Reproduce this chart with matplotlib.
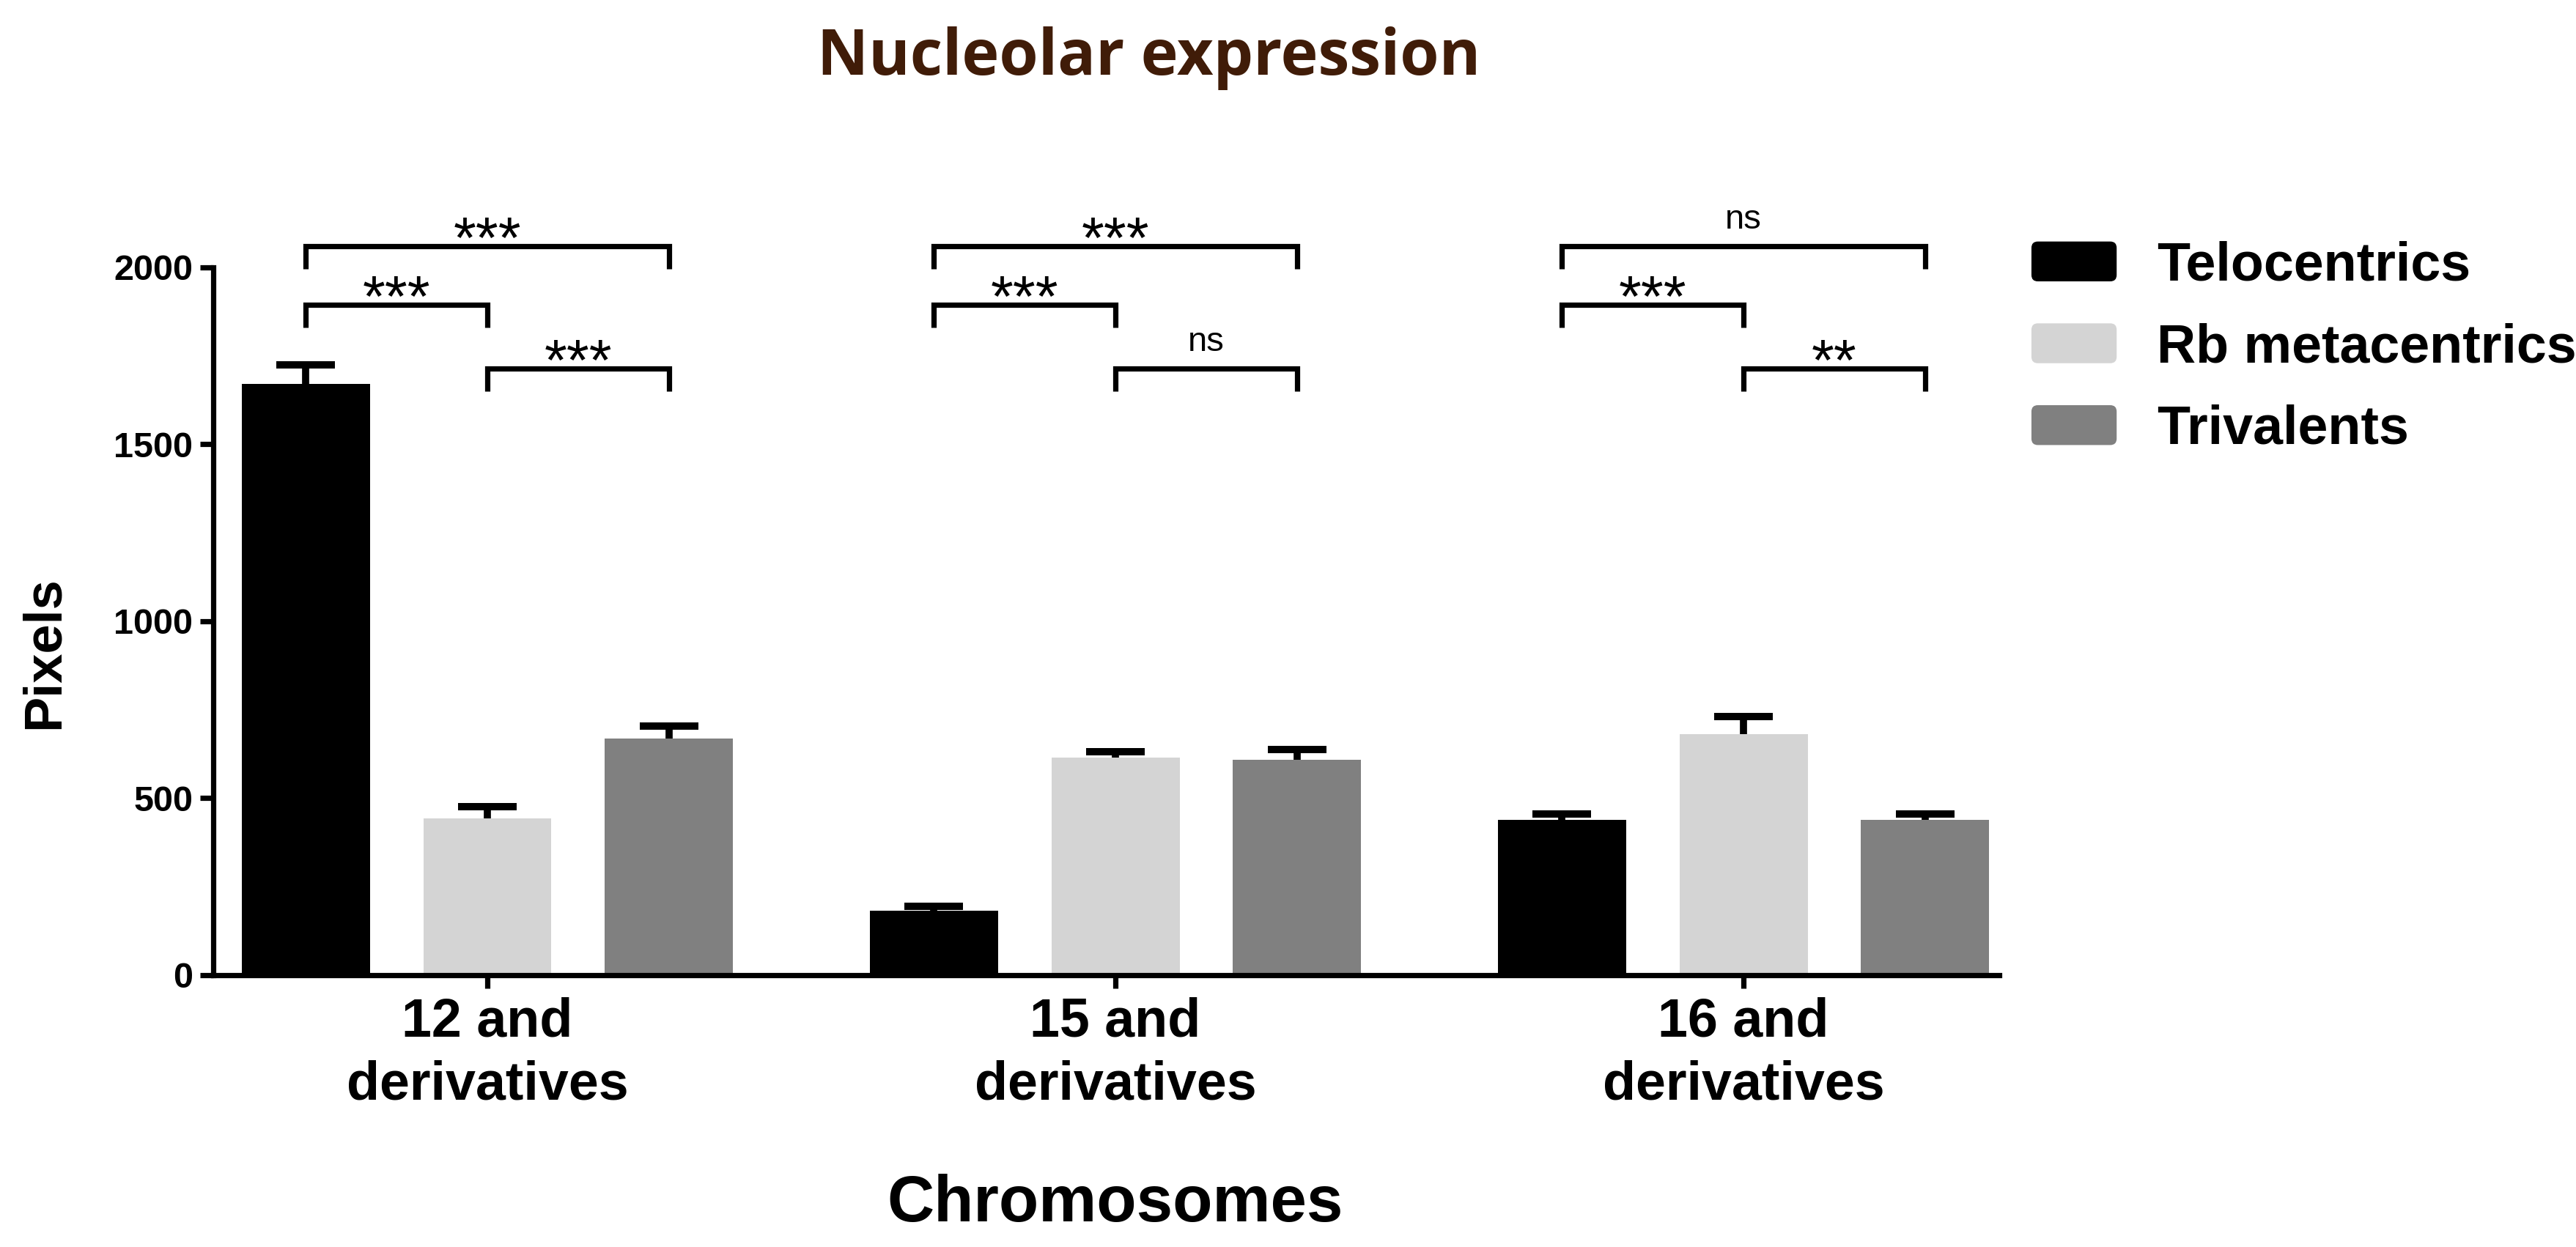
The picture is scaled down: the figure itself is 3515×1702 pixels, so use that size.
import numpy as np
import matplotlib
matplotlib.use("Agg")
import matplotlib.pyplot as plt
from matplotlib import font_manager
from matplotlib.patches import Patch, FancyBboxPatch
from matplotlib.legend_handler import HandlerPatch

# data (pixels, mean and upper error)
groups = ['12 and\nderivatives', '15 and\nderivatives', '16 and\nderivatives']
series = ['Telocentrics', 'Rb metacentrics', 'Trivalents']
telo = [1670, 183, 438]
telo_err = [55, 12, 17]
rb = [443, 614, 682]
rb_err = [33, 17, 49]
tri = [668, 609, 438]
tri_err = [36, 28, 17]
colors = ['#000000', '#d4d4d4', '#808080']

# significance brackets: (group, bar a, bar b, level, label)
sig = [
    (0, 0, 2, 2060, '***'), (0, 0, 1, 1895, '***'), (0, 1, 2, 1715, '***'),
    (1, 0, 2, 2060, '***'), (1, 0, 1, 1895, '***'), (1, 1, 2, 1715, 'ns'),
    (2, 0, 2, 2060, 'ns'), (2, 0, 1, 1895, '***'), (2, 1, 2, 1715, '**'),
]

plt.rcParams['font.family'] = ['Liberation Sans', 'DejaVu Sans']

# narrow face for the y tick numbers if it is there
try:
    font_manager.findfont('Liberation Sans Narrow', fallback_to_default=False)
    ytick_family = ['Liberation Sans Narrow', 'Liberation Sans']
    ytick_size = 37
except ValueError:
    ytick_family = ['Liberation Sans']
    ytick_size = 35


class RoundHandler(HandlerPatch):
    # rounded legend boxes like the GraphPad ones
    def create_artists(self, legend, orig_handle, xdescent, ydescent,
                       width, height, fontsize, trans):
        r = height * 0.16
        p = FancyBboxPatch((-xdescent + r, -ydescent + r), width - 2 * r,
                           height - 2 * r, boxstyle='round,pad=%f' % r,
                           facecolor=orig_handle.get_facecolor(),
                           edgecolor='none', transform=trans)
        return [p]


fig = plt.figure(figsize=(35.15, 17.02), dpi=100)
ax = fig.add_axes([0.0828, 0.2180, 0.6933, 0.5676])

x = np.arange(len(groups))
offsets = [-0.289, 0.0, 0.289]
width = 0.204
lw = 5.2

means = [telo, rb, tri]
errs = [telo_err, rb_err, tri_err]
for i in range(3):
    xs = x + offsets[i]
    ax.bar(xs, means[i], width, color=colors[i], edgecolor=colors[i],
           linewidth=0, zorder=2)
    cont = ax.errorbar(xs, means[i], yerr=[np.zeros(3), errs[i]], fmt='none',
                       ecolor='black', elinewidth=7, capsize=28.8, capthick=7.2,
                       zorder=3)
    cont.lines[1][0].set_visible(False)  # only the upper cap

# brackets
leg_len = 65
for g, a, b, level, label in sig:
    xa = g + offsets[a]
    xb = g + offsets[b]
    ax.plot([xa, xa, xb, xb], [level - leg_len, level, level, level - leg_len],
            color='black', lw=lw, clip_on=False, solid_joinstyle='miter',
            solid_capstyle='butt', zorder=4)
    if label == 'ns':
        ax.annotate(label, xy=((xa + xb) / 2, level), xytext=(0, 17),
                    textcoords='offset points', ha='center', va='baseline',
                    fontsize=34, annotation_clip=False)
    else:
        ax.annotate(label, xy=((xa + xb) / 2, level), xytext=(0, -11.5),
                    textcoords='offset points', ha='center', va='baseline',
                    fontsize=57, annotation_clip=False)

ax.set_xlim(-0.4364, 2.407)
ax.set_ylim(0, 2000)
ax.set_yticks([0, 500, 1000, 1500, 2000])
ax.set_xticks(x)
ax.set_xticklabels(groups, fontsize=53, fontweight='bold', linespacing=1.33)
for t in ax.get_yticklabels():
    t.set_fontsize(ytick_size)
    t.set_fontweight('bold')
    t.set_family(ytick_family)

for s in ['top', 'right']:
    ax.spines[s].set_visible(False)
for s in ['left', 'bottom']:
    ax.spines[s].set_linewidth(lw)
ax.spines['left'].set_bounds(0, 2000)
ax.tick_params(axis='y', length=13, width=lw, pad=7)
ax.tick_params(axis='x', length=13, width=lw, pad=8)

ax.set_ylabel('Pixels', fontsize=52, fontweight='bold')
ax.yaxis.set_label_coords(-0.0807, 0.4555)

fig.text(0.433, 0.0206, 'Chromosomes', fontsize=64, fontweight='bold',
         ha='center', va='baseline')
fig.text(0.3172, 0.940, 'Nucleolar expression', fontsize=62,
         fontweight='bold', family=['Open Sans', 'DejaVu Sans'],
         color='#401c08', ha='left', va='baseline')

handles = [Patch(facecolor=c) for c in colors]
fig.legend(handles, series, handler_map={Patch: RoundHandler()},
           loc='upper left', bbox_to_anchor=(0.7886, 0.807), frameon=False,
           prop={'weight': 'bold', 'size': 53},
           handlelength=1.58, handleheight=0.76, handletextpad=0.75,
           labelspacing=0.58, borderpad=0, borderaxespad=0)

fig.savefig('out.png', dpi=100)
